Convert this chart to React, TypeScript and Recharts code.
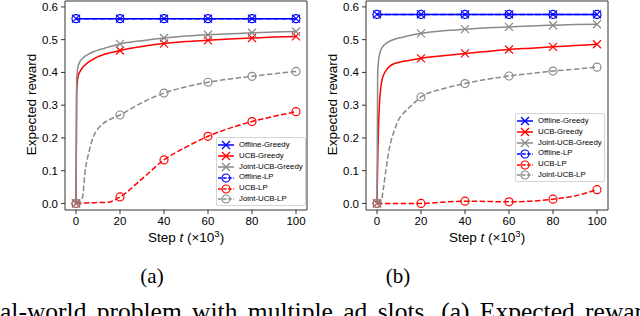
import React from 'react'
import { LineChart, Line, XAxis, YAxis, ReferenceArea } from 'recharts'

// step t (x10^3) at which each curve was sampled
const STEPS = [0, 0.3, 1, 2, 3, 4, 6, 8, 10, 12, 15, 20, 30, 40, 50, 60, 70, 80, 90, 100]
const MARKED_STEPS = [0, 20, 40, 60, 80, 100]
const X_TICKS = [0, 20, 40, 60, 80, 100]
const Y_TICKS = [0, 0.1, 0.2, 0.3, 0.4, 0.5, 0.6]

// panel (a)
const A_OFFLINE_GREEDY = [0.564, 0.564, 0.564, 0.564, 0.564, 0.564, 0.564, 0.564, 0.564, 0.564, 0.564, 0.564, 0.564, 0.564, 0.564, 0.564, 0.564, 0.564, 0.564, 0.564]
const A_UCB_GREEDY = [0, 0.34, 0.39, 0.405, 0.415, 0.422, 0.433, 0.441, 0.448, 0.453, 0.459, 0.467, 0.479, 0.488, 0.494, 0.498, 0.502, 0.505, 0.508, 0.51]
const A_JOINT_GREEDY = [0, 0.38, 0.42, 0.435, 0.443, 0.449, 0.457, 0.463, 0.468, 0.472, 0.478, 0.487, 0.497, 0.505, 0.511, 0.515, 0.518, 0.521, 0.523, 0.525]
const A_OFFLINE_LP = [0.564, 0.564, 0.564, 0.564, 0.564, 0.564, 0.564, 0.564, 0.564, 0.564, 0.564, 0.564, 0.564, 0.564, 0.564, 0.564, 0.564, 0.564, 0.564, 0.564]
const A_UCB_LP = [0, 0, 0, 0, 0.001, 0.001, 0.002, 0.002, 0.003, 0.003, 0.004, 0.02, 0.075, 0.133, 0.172, 0.205, 0.23, 0.25, 0.266, 0.28]
const A_JOINT_LP = [0, 0, 0.002, 0.008, 0.02, 0.09, 0.16, 0.205, 0.228, 0.242, 0.255, 0.27, 0.308, 0.337, 0.356, 0.37, 0.38, 0.388, 0.396, 0.403]

// panel (b)
const B_OFFLINE_GREEDY = [0.577, 0.577, 0.577, 0.577, 0.577, 0.577, 0.577, 0.577, 0.577, 0.577, 0.577, 0.577, 0.577, 0.577, 0.577, 0.577, 0.577, 0.577, 0.577, 0.577]
const B_UCB_GREEDY = [0, 0.12, 0.29, 0.367, 0.392, 0.405, 0.42, 0.427, 0.431, 0.434, 0.437, 0.443, 0.451, 0.458, 0.464, 0.47, 0.474, 0.478, 0.482, 0.486]
const B_JOINT_GREEDY = [0, 0.4, 0.45, 0.472, 0.482, 0.488, 0.496, 0.501, 0.505, 0.508, 0.513, 0.519, 0.527, 0.532, 0.536, 0.539, 0.542, 0.544, 0.546, 0.547]
const B_OFFLINE_LP = [0.577, 0.577, 0.577, 0.577, 0.577, 0.577, 0.577, 0.577, 0.577, 0.577, 0.577, 0.577, 0.577, 0.577, 0.577, 0.577, 0.577, 0.577, 0.577, 0.577]
const B_UCB_LP = [0, 0, 0, 0, 0, 0, 0, 0, 0, 0, 0, 0, 0.004, 0.007, 0.006, 0.005, 0.007, 0.013, 0.023, 0.042]
const B_JOINT_LP = [0, 0, 0.003, 0.01, 0.05, 0.1, 0.18, 0.225, 0.258, 0.275, 0.295, 0.325, 0.35, 0.366, 0.379, 0.389, 0.397, 0.404, 0.41, 0.416]

const BLUE = '#0000ff'
const RED = '#ff0000'
const GRAY = '#8a8a8a'

const SERIES = [
  { key: 'offlineGreedy', name: 'Offline-Greedy', color: BLUE, dashed: false, marker: 'x' },
  { key: 'ucbGreedy', name: 'UCB-Greedy', color: RED, dashed: false, marker: 'x' },
  { key: 'jointGreedy', name: 'Joint-UCB-Greedy', color: GRAY, dashed: false, marker: 'x' },
  { key: 'offlineLp', name: 'Offline-LP', color: BLUE, dashed: true, marker: 'o' },
  { key: 'ucbLp', name: 'UCB-LP', color: RED, dashed: true, marker: 'o' },
  { key: 'jointLp', name: 'Joint-UCB-LP', color: GRAY, dashed: true, marker: 'o' },
]

const buildRows = (cols: number[][]) =>
  STEPS.map((x, i) => ({
    x,
    offlineGreedy: cols[0][i],
    ucbGreedy: cols[1][i],
    jointGreedy: cols[2][i],
    offlineLp: cols[3][i],
    ucbLp: cols[4][i],
    jointLp: cols[5][i],
  }))

const ROWS_A = buildRows([A_OFFLINE_GREEDY, A_UCB_GREEDY, A_JOINT_GREEDY, A_OFFLINE_LP, A_UCB_LP, A_JOINT_LP])
const ROWS_B = buildRows([B_OFFLINE_GREEDY, B_UCB_GREEDY, B_JOINT_GREEDY, B_OFFLINE_LP, B_UCB_LP, B_JOINT_LP])

const SANS = '"Liberation Sans", Arial, sans-serif'
const SERIF = '"Liberation Serif", "Times New Roman", serif'
const DASH = '5.5 2.4'

function Marker({ cx, cy, kind, color }: { cx: number; cy: number; kind: string; color: string }) {
  if (kind === 'o') {
    return <circle cx={cx} cy={cy} r={4} fill="none" stroke={color} strokeWidth={1.2} />
  }
  const s = 4
  return (
    <g stroke={color} strokeWidth={1.2}>
      <line x1={cx - s} y1={cy - s} x2={cx + s} y2={cy + s} />
      <line x1={cx - s} y1={cy + s} x2={cx + s} y2={cy - s} />
    </g>
  )
}

function LegendBox({ left, top }: { left: number; top: number }) {
  return (
    <div
      style={{
        position: 'absolute',
        left,
        top,
        width: 90,
        height: 69,
        boxSizing: 'border-box',
        border: '1px solid #d4d4d4',
        borderRadius: 2,
        background: 'rgba(255,255,255,0.85)',
        padding: '2px 0 0 1px',
        fontFamily: SANS,
        fontSize: 7.8,
        color: '#000',
      }}
    >
      {SERIES.map(s => (
        <div key={s.key} style={{ display: 'flex', alignItems: 'center', height: 10.8 }}>
          <svg width={16} height={10} style={{ flexShrink: 0 }}>
            <line x1={0} y1={5} x2={16} y2={5} stroke={s.color} strokeWidth={1.5} strokeDasharray={s.dashed ? '3.5 1.6' : undefined} />
            <Marker cx={8} cy={5} kind={s.marker} color={s.color} />
          </svg>
          <span style={{ marginLeft: 5, lineHeight: '10.8px', whiteSpace: 'nowrap' }}>{s.name}</span>
        </div>
      ))}
    </div>
  )
}

function Panel({ left, rows }: { left: number; rows: ReturnType<typeof buildRows> }) {
  const tickStyle = { fill: '#000', fontSize: 11.5, fontFamily: SANS }
  return (
    <div style={{ position: 'absolute', left, top: 0 }}>
      <LineChart width={320} height={250} data={rows} margin={{ top: 1, right: 13, bottom: 0, left: 0 }}>
        <XAxis
          dataKey="x"
          type="number"
          domain={[-5, 105]}
          ticks={X_TICKS}
          interval={0}
          allowDataOverflow
          height={40}
          tickSize={4}
          tickMargin={3}
          axisLine={false}
          tickLine={{ stroke: '#333' }}
          tick={tickStyle}
        />
        <YAxis
          type="number"
          domain={[-0.02, 0.618]}
          ticks={Y_TICKS}
          interval={0}
          allowDataOverflow
          width={65}
          tickSize={4}
          tickMargin={3}
          axisLine={false}
          tickLine={{ stroke: '#333' }}
          tick={tickStyle}
          tickFormatter={(v: number) => v.toFixed(1)}
        />
        <ReferenceArea x1={-5} x2={105} y1={-0.02} y2={0.618} fill="none" stroke="#333" strokeWidth={1} ifOverflow="visible" />
        {SERIES.map(s => (
          <Line
            key={s.key}
            dataKey={s.key}
            type="monotone"
            stroke={s.color}
            strokeWidth={1.5}
            strokeDasharray={s.dashed ? DASH : undefined}
            isAnimationActive={false}
            activeDot={false}
            dot={(p: any) => {
              if (!MARKED_STEPS.includes(p.payload.x)) return <g key={`${s.key}-${p.index}`} />
              return <Marker key={`${s.key}-${p.index}`} cx={p.cx} cy={p.cy} kind={s.marker} color={s.color} />
            }}
          />
        ))}
      </LineChart>
    </div>
  )
}

function XTitle({ x }: { x: number }) {
  return (
    <text x={x} y={242} textAnchor="middle" fontFamily={SANS} fontSize={13.5} fill="#000">
      Step <tspan fontStyle="italic">t</tspan> (×10
      <tspan dy={-5} fontSize={9.5}>3</tspan>
      <tspan dy={5}>)</tspan>
    </text>
  )
}

function YTitle({ x }: { x: number }) {
  return (
    <text x={x} y={104.5} transform={`rotate(-90 ${x} 104.5)`} textAnchor="middle" fontFamily={SANS} fontSize={13.5} fill="#000">
      Expected reward
    </text>
  )
}

export default function App() {
  return (
    <div style={{ position: 'absolute', left: 0, top: 0, width: 640, height: 316, overflow: 'hidden', background: '#fff' }}>
      <Panel left={0} rows={ROWS_A} />
      <Panel left={301} rows={ROWS_B} />
      <LegendBox left={216} top={137} />
      <LegendBox left={515} top={113} />
      <svg width={640} height={316} style={{ position: 'absolute', left: 0, top: 0, pointerEvents: 'none' }}>
        <YTitle x={36} />
        <YTitle x={337} />
        <XTitle x={186} />
        <XTitle x={487} />
        <text x={152} y={282.5} textAnchor="middle" fontFamily={SERIF} fontSize={21} fill="#000">(a)</text>
        <text x={398} y={282.5} textAnchor="middle" fontFamily={SERIF} fontSize={21} fill="#000">(b)</text>
        <text x={0} y={320} fontFamily={SERIF} fontSize={25.5} fill="#000" wordSpacing={4}>
          al-world problem with multiple ad slots. (a) Expected reward
        </text>
      </svg>
    </div>
  )
}
